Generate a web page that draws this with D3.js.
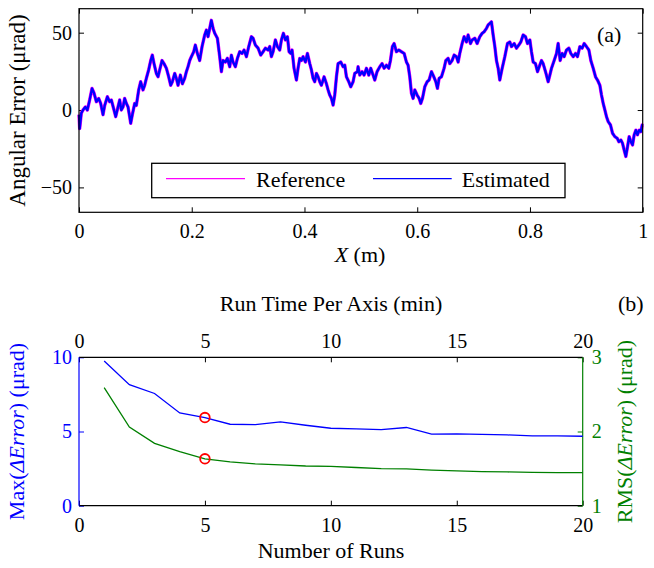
<!DOCTYPE html>
<html>
<head>
<meta charset="utf-8">
<script src="https://cdn.jsdelivr.net/npm/d3@7"></script>
<style>
  html, body { margin: 0; padding: 0; background: #fff; }
  svg { display: block; }
  text { font-family: "Liberation Serif", "Times New Roman", serif; }
</style>
</head>
<body>
<svg id="chart" width="654" height="568" font-family="Liberation Serif, serif"></svg>
<script>
// ---------- Panel (a) data: angular error along X ----------
const xPos = [
  0, 0.0012, 0.0041, 0.0071, 0.0112, 0.0148, 0.0189, 0.0231, 0.0266, 0.0308,
  0.0349, 0.0385, 0.0426, 0.0456, 0.0503, 0.0544, 0.0574, 0.0621, 0.0651, 0.0692,
  0.0722, 0.0751, 0.0781, 0.0810, 0.0840, 0.0870, 0.0899, 0.0917, 0.0946, 0.0988,
  0.1017, 0.1059, 0.1094, 0.1136, 0.1165, 0.1195, 0.1236, 0.1272, 0.1301, 0.1331,
  0.1372, 0.1402, 0.1432, 0.1473, 0.1508, 0.1550, 0.1591, 0.1627, 0.1656, 0.1698,
  0.1727, 0.1757, 0.1798, 0.1834, 0.1875, 0.1905, 0.1934, 0.1964, 0.1993, 0.2035,
  0.2064, 0.2100, 0.2141, 0.2183, 0.2230, 0.2260, 0.2289, 0.2319, 0.2348, 0.2378,
  0.2408, 0.2455,
  0.2496, 0.2526, 0.2555, 0.2597, 0.2632, 0.2674, 0.2703, 0.2733, 0.2774, 0.2810,
  0.2851, 0.2893, 0.2928, 0.2970, 0.3011, 0.3058, 0.3088, 0.3129, 0.3177, 0.3224,
  0.3265, 0.3307, 0.3354, 0.3384, 0.3413, 0.3443, 0.3484, 0.3520, 0.3561, 0.3591,
  0.3626, 0.3662, 0.3697, 0.3727, 0.3756, 0.3780, 0.3815, 0.3857, 0.3886, 0.3916,
  0.3946, 0.3975, 0.4017, 0.4052, 0.4094, 0.4123, 0.4153, 0.4182, 0.4212, 0.4241,
  0.4271, 0.4300, 0.4348, 0.4389, 0.4419, 0.4448, 0.4478, 0.4508, 0.4537, 0.4567,
  0.4596, 0.4644, 0.4685, 0.4715, 0.4744, 0.4786, 0.4821, 0.4862, 0.4892, 0.4939,
  0.4951, 0.4981, 0.5022, 0.5058, 0.5099, 0.5141, 0.5176, 0.5217, 0.5247, 0.5288,
  0.5336, 0.5377, 0.5413, 0.5454, 0.5495, 0.5525, 0.5560, 0.5590, 0.5631, 0.5673,
  0.5720, 0.5768, 0.5809, 0.5838, 0.5868, 0.5898, 0.5927, 0.5957, 0.5998, 0.6034,
  0.6063, 0.6093, 0.6134, 0.6176, 0.6211, 0.6253, 0.6294, 0.6330, 0.6359, 0.6389,
  0.6430, 0.6477, 0.6507, 0.6548, 0.6578, 0.6619, 0.6655, 0.6696, 0.6726, 0.6755,
  0.6797, 0.6832, 0.6874, 0.6903, 0.6945, 0.6974, 0.7022, 0.7063, 0.7110, 0.7152,
  0.7187, 0.7229, 0.7258, 0.7288, 0.7317, 0.7347, 0.7377, 0.7406, 0.7436,
  0.7465, 0.7507, 0.7554, 0.7601, 0.7643, 0.7672, 0.7720, 0.7761, 0.7802, 0.7838,
  0.7879, 0.7921, 0.7956, 0.7998, 0.8027, 0.8057, 0.8098, 0.8134, 0.8175, 0.8205,
  0.8234, 0.8276, 0.8323, 0.8353, 0.8382, 0.8429, 0.8471, 0.8500, 0.8536, 0.8571,
  0.8607, 0.8648, 0.8690, 0.8725, 0.8767, 0.8808, 0.8843, 0.8885, 0.8926, 0.8962,
  0.9003, 0.9045, 0.9080, 0.9122, 0.9163, 0.9198, 0.9240, 0.9269, 0.9299, 0.9329,
  0.9358, 0.9388, 0.9429, 0.9465, 0.9506, 0.9548, 0.9577, 0.9613, 0.9642, 0.9672,
  0.9701, 0.9731, 0.9760, 0.9790, 0.9820, 0.9849, 0.9879, 0.9908, 0.9938, 0.9967,
  0.9991, 1.0
];
const estErr = [
  -3, -12, -2, 0, 2, 0, 6.5, 14, 11, 5.4,
  7.5, 4.3, -3, 3, 8.6, 5.4, 6.5, 0, -4.3, 2,
  6.5, 0, 2, 7.5, 4.3, 2, -4.3, -8.6, -3, 4.3,
  3, 13, 18.3, 13, 16, 20.5, 26, 32, 35.5, 30,
  23.7, 21.5, 26, 32, 30, 27, 21.5, 16, 18.3, 23.7,
  20.5, 16, 22.6, 17, 20.5, 24.8, 28, 32, 34.5, 37.7,
  42, 36.6, 32, 41, 48.5, 51.7, 47.4, 52.8, 58, 52.8,
  49.6, 46.4,
  34.5, 24.8, 32, 31, 33.4, 28, 35.5, 31, 28, 33.4,
  37.7, 36.6, 38.8, 34.5, 41, 47.4, 46.4, 42, 40, 35.5,
  37.7, 40, 38.8, 41, 34.5, 37.7, 45.3, 41, 38.8, 45.3,
  49.6, 45.3, 47.4, 37.7, 36.6, 38.8, 27, 19.4, 27, 33.4,
  32, 34.5, 31, 36.6, 30, 26, 20.5, 18.3, 23.7, 21.5,
  18.3, 16, 21.5, 17, 13, 9.7, 7.5, 3.2, 9.7, 21.5,
  30, 31, 28, 29, 21.5, 18.3, 15, 18.3, 23.7, 24.8,
  28, 22.6, 24.8, 22.6, 27, 22.6, 27, 22.6, 19.4, 24.8,
  28, 30, 27, 29, 27, 32, 41, 43, 37.7, 38.8,
  37.7, 36.6, 31, 29, 21.5, 10.8, 7.5, 13, 9.7, 7.5,
  4.3, 7.5, 15, 18.3, 19.4, 24.8, 21.5, 18.3, 14, 20.5,
  21.5, 27, 32, 33.4, 30, 32, 35.5, 34.5, 31, 36.6,
  43, 47.4, 44, 48.5, 43, 45.3, 46.4, 43, 47.4, 49.6,
  50.6, 52.8, 55, 56, 57, 48.5, 41, 32, 27,
  19.4, 27, 34.5, 43, 44, 41, 43, 40, 42, 44,
  48.5, 47.4, 43, 45.3, 37.7, 31, 30, 24.8, 29, 32,
  30, 24.8, 18.3, 22.6, 27, 32, 36.6, 43, 32, 36.6,
  34.5, 38.8, 40, 36.6, 34.5, 36.6, 34.5, 41, 40, 43,
  41, 38.8, 32, 27, 21.5, 19.4, 16, 9.7, 4.3, 0,
  -4.3, -7.5, -9.7, -15, -17.2, -18.3, -20.5, -19.4, -21.5, -26,
  -30, -23.7, -17.2, -20.5, -22.6, -16, -13, -16, -13, -14,
  -9.7, -10
];
// Reference curve coincides with the estimate at this resolution
const refErr = estErr.slice();
const xTicksA = [0, 0.2, 0.4, 0.6, 0.8, 1];
const yTicksA = [-50, 0, 50];

// ---------- Panel (b) data ----------
const runs = [1,2,3,4,5,6,7,8,9,10,11,12,13,14,15,16,17,18,19,20];
const maxErr = [9.75, 8.16, 7.56, 6.25, 5.94, 5.49, 5.47, 5.65, 5.42, 5.22,
                5.18, 5.12, 5.27, 4.82, 4.84, 4.80, 4.77, 4.70, 4.70, 4.68];
const rmsErr = [2.59, 2.06, 1.84, 1.73, 1.632, 1.59, 1.565, 1.55, 1.535, 1.53,
                1.515, 1.50, 1.495, 1.48, 1.47, 1.46, 1.455, 1.45, 1.445, 1.445];
const highlightRun = 5;
const xTicksB = [0, 5, 10, 15, 20];
const yTicksBLeft = [0, 5, 10];
const yTicksBRight = [1, 2, 3];

// ---------- Drawing ----------
const FONT = '"Liberation Serif", "Times New Roman", serif';
const svg = d3.select("#chart");
const BLUE = "#0000ff", MAGENTA = "#ff00ff", GREEN = "#008000", RED = "#ff0000";
const TICKFONT = 20, LABFONT = 22;
const fmt = d3.format("~g");

// Panel (a)
const A = {left: 79, right: 642.7, top: 8.7, bottom: 212.3};
const xA = d3.scaleLinear().domain([0, 1]).range([A.left, A.right]);
const yA = d3.scaleLinear().domain([-66.1, 65.5]).range([A.bottom, A.top]);

function styleAxis(g, color, size) {
  g.attr("font-family", FONT).attr("font-size", size);
  g.select(".domain").remove();
  g.selectAll(".tick line").attr("stroke", color).attr("stroke-width", 1);
  g.selectAll(".tick text").attr("fill", color)
    .attr("font-family", FONT).style("font-family", FONT).style("font-size", size + "px");
}

svg.append("g").attr("transform", `translate(0,${A.bottom})`)
  .call(d3.axisBottom(xA).tickValues(xTicksA).tickSize(-5).tickPadding(12).tickFormat(fmt))
  .call(g => styleAxis(g, "#000", TICKFONT));
svg.append("g").attr("transform", `translate(0,${A.top})`)
  .call(d3.axisTop(xA).tickValues(xTicksA).tickSize(-5).tickFormat(""))
  .call(g => styleAxis(g, "#000", TICKFONT));
svg.append("g").attr("transform", `translate(${A.left},0)`)
  .call(d3.axisLeft(yA).tickValues(yTicksA).tickSize(-5).tickPadding(7).tickFormat(fmt))
  .call(g => styleAxis(g, "#000", TICKFONT));
svg.append("g").attr("transform", `translate(${A.right},0)`)
  .call(d3.axisRight(yA).tickValues(yTicksA).tickSize(-5).tickFormat(""))
  .call(g => styleAxis(g, "#000", TICKFONT));

const lineA = d3.line().x((d, i) => xA(xPos[i])).y(d => yA(d));
svg.append("path").datum(refErr).attr("d", lineA)
  .attr("fill", "none").attr("stroke", MAGENTA).attr("stroke-width", 3.4)
  .attr("stroke-linejoin", "round");
svg.append("path").datum(estErr).attr("d", lineA)
  .attr("fill", "none").attr("stroke", BLUE).attr("stroke-width", 2.4)
  .attr("stroke-linejoin", "round");

svg.append("rect").attr("x", A.left).attr("y", A.top)
  .attr("width", A.right - A.left).attr("height", A.bottom - A.top)
  .attr("fill", "none").attr("stroke", "#000").attr("stroke-width", 1.2);

// legend
const lg = svg.append("g");
lg.append("rect").attr("x", 151.7).attr("y", 163.3).attr("width", 413.3).attr("height", 34.4)
  .attr("fill", "#fff").attr("stroke", "#000").attr("stroke-width", 1.3);
const legendItems = [
  {name: "Reference", color: MAGENTA, x0: 166, x1: 245, tx: 256},
  {name: "Estimated", color: BLUE, x0: 373, x1: 451.7, tx: 461.7}
];
legendItems.forEach(it => {
  lg.append("line").attr("x1", it.x0).attr("x2", it.x1).attr("y1", 178.6).attr("y2", 178.6)
    .attr("stroke", it.color).attr("stroke-width", 1.4);
  lg.append("text").attr("x", it.tx).attr("y", 186.5).attr("font-size", LABFONT)
    .attr("fill", "#000").text(it.name);
});

svg.append("text").attr("x", 597).attr("y", 42).attr("font-size", LABFONT).text("(a)");

// axis titles (a)
svg.append("text").attr("transform", `translate(25,${(A.top + A.bottom) / 2}) rotate(-90)`)
  .attr("text-anchor", "middle").attr("font-size", 23).text("Angular Error (μrad)");
const xl = svg.append("text").attr("x", 360).attr("y", 262).attr("text-anchor", "middle")
  .attr("font-size", LABFONT);
xl.append("tspan").attr("font-style", "italic").text("X");
xl.append("tspan").text(" (m)");

// Panel (b)
const B = {left: 79, right: 582.7, top: 357.3, bottom: 505.7};
const xB = d3.scaleLinear().domain([0, 20]).range([B.left, B.right]);
const yBL = d3.scaleLinear().domain([0, 10]).range([B.bottom, B.top]);
const yBR = d3.scaleLinear().domain([1, 3]).range([B.bottom, B.top]);

svg.append("g").attr("transform", `translate(0,${B.bottom})`)
  .call(d3.axisBottom(xB).tickValues(xTicksB).tickSize(-5).tickPadding(12).tickFormat(fmt))
  .call(g => styleAxis(g, "#000", TICKFONT));
svg.append("g").attr("transform", `translate(0,${B.top})`)
  .call(d3.axisTop(xB).tickValues(xTicksB).tickSize(-5).tickPadding(9).tickFormat(fmt))
  .call(g => styleAxis(g, "#000", TICKFONT));
svg.append("g").attr("transform", `translate(${B.left},0)`)
  .call(d3.axisLeft(yBL).tickValues(yTicksBLeft).tickSize(-5).tickPadding(7).tickFormat(fmt))
  .call(g => styleAxis(g, BLUE, TICKFONT));
svg.append("g").attr("transform", `translate(${B.right},0)`)
  .call(d3.axisRight(yBR).tickValues(yTicksBRight).tickSize(-5).tickPadding(9).tickFormat(fmt))
  .call(g => styleAxis(g, GREEN, TICKFONT));

// frame
svg.append("line").attr("x1", B.left).attr("x2", B.right).attr("y1", B.top).attr("y2", B.top)
  .attr("stroke", "#000").attr("stroke-width", 1.2);
svg.append("line").attr("x1", B.left).attr("x2", B.right).attr("y1", B.bottom).attr("y2", B.bottom)
  .attr("stroke", "#000").attr("stroke-width", 1.2);
svg.append("line").attr("x1", B.left).attr("x2", B.left).attr("y1", B.top).attr("y2", B.bottom)
  .attr("stroke", BLUE).attr("stroke-width", 1.2);
svg.append("line").attr("x1", B.right).attr("x2", B.right).attr("y1", B.top).attr("y2", B.bottom)
  .attr("stroke", GREEN).attr("stroke-width", 1.2);

svg.append("path").datum(maxErr)
  .attr("d", d3.line().x((d, i) => xB(runs[i])).y(d => yBL(d)))
  .attr("fill", "none").attr("stroke", BLUE).attr("stroke-width", 1.3);
svg.append("path").datum(rmsErr)
  .attr("d", d3.line().x((d, i) => xB(runs[i])).y(d => yBR(d)))
  .attr("fill", "none").attr("stroke", GREEN).attr("stroke-width", 1.3);

const hi = runs.indexOf(highlightRun);
svg.append("circle").attr("cx", xB(runs[hi])).attr("cy", yBL(maxErr[hi])).attr("r", 4.8)
  .attr("fill", "none").attr("stroke", RED).attr("stroke-width", 1.8);
svg.append("circle").attr("cx", xB(runs[hi])).attr("cy", yBR(rmsErr[hi])).attr("r", 4.8)
  .attr("fill", "none").attr("stroke", RED).attr("stroke-width", 1.8);

svg.append("text").attr("x", 331).attr("y", 311).attr("text-anchor", "middle")
  .attr("font-size", LABFONT).text("Run Time Per Axis (min)");
svg.append("text").attr("x", 618).attr("y", 311).attr("font-size", LABFONT).text("(b)");
svg.append("text").attr("x", 331).attr("y", 558).attr("text-anchor", "middle")
  .attr("font-size", LABFONT).text("Number of Runs");

const yl = svg.append("text").attr("transform", `translate(24,${(B.top + B.bottom) / 2}) rotate(-90)`)
  .attr("text-anchor", "middle").attr("font-size", LABFONT).attr("fill", BLUE);
yl.append("tspan").text("Max(");
yl.append("tspan").attr("font-style", "italic").text("ΔError");
yl.append("tspan").text(") (μrad)");

const yr = svg.append("text").attr("transform", `translate(632,${(B.top + B.bottom) / 2}) rotate(-90)`)
  .attr("text-anchor", "middle").attr("font-size", LABFONT).attr("fill", GREEN);
yr.append("tspan").text("RMS(");
yr.append("tspan").attr("font-style", "italic").text("ΔError");
yr.append("tspan").text(") (μrad)");
</script>
</body>
</html>
